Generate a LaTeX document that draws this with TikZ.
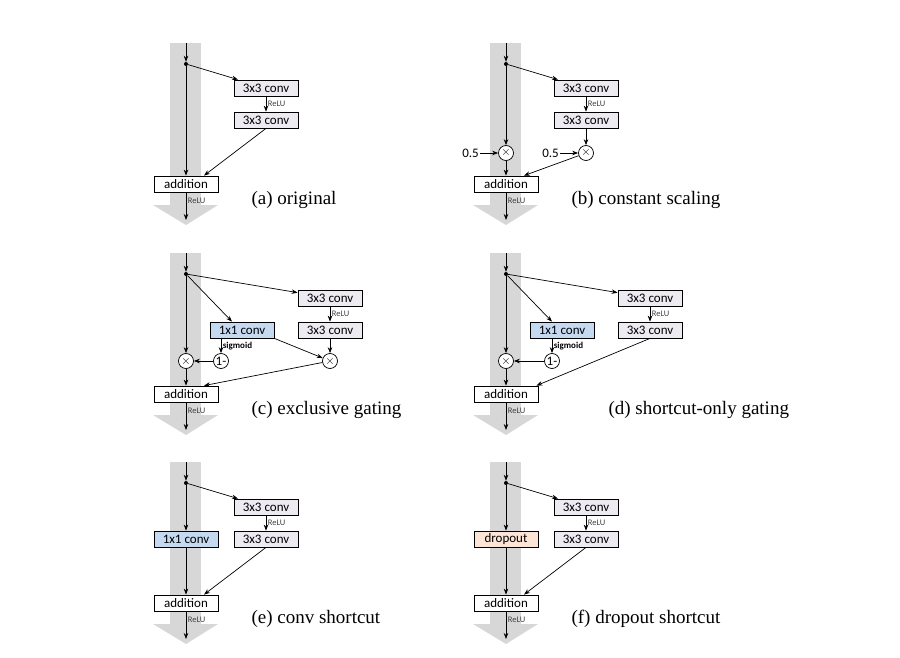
\documentclass[tikz,border=0pt]{standalone}
\usepackage{fontspec}
\setmainfont{Liberation Serif}
\newfontfamily\boxfont{Carlito}
\usetikzlibrary{arrows.meta}

\definecolor{boxfill}{RGB}{238,234,242}
\definecolor{gatefill}{RGB}{197,217,241}
\definecolor{dropfill}{RGB}{252,228,214}
\definecolor{trunkgray}{RGB}{215,215,215}

\tikzset{
  box/.style={draw, line width=0.8pt, fill=boxfill, minimum width=64pt, minimum height=16pt, inner sep=1pt, font=\boxfont\fontsize{13}{13}\selectfont},
  addbox/.style={box, fill=white},
  mult/.style={draw, line width=0.7pt, fill=white, circle, minimum size=15pt, inner sep=0pt, font=\boxfont\fontsize{13}{13}\selectfont},
  dot/.style={fill, circle, minimum size=4pt, inner sep=0pt},
  arr/.style={line width=0.7pt, -{Stealth[length=6pt, width=4.5pt]}},
  relu/.style={right, font=\boxfont\fontsize{8.5}{8.5}\selectfont, text=black!75, inner sep=1.5pt},
  sig/.style={right, font=\boxfont\bfseries\fontsize{9}{9}\selectfont, inner sep=1.5pt},
  label/.style={left, font=\boxfont\fontsize{13}{13}\selectfont, inner sep=1pt},
  caption/.style={anchor=west, font=\fontsize{19}{19}\selectfont}
}

% gray trunk behind each block
\newcommand{\trunk}{%
  \fill[trunkgray] (170,43) rectangle (201,205);
  \fill[trunkgray] (153,205) -- (218,205) -- (186,225) -- cycle;}

\begin{document}
\begin{tikzpicture}[x=1pt, y=-1pt]
  \useasboundingbox (0,0) rectangle (900,658);

  % (a) original
  \begin{scope}
    \trunk
    \coordinate (a-in) at (186,43);
    \node[dot] (a-split) at (186,64) {};
    \node[box] (a-c1) at (266,88) {3x3 conv};
    \node[box] (a-c2) at (266,120) {3x3 conv};
    \node[addbox] (a-add) at (186,184) {addition};
    \coordinate (a-out) at (186,220);
    \draw[arr] (a-in) -- (a-split);
    \draw[arr] (a-split) -- (a-c1);
    \draw[arr] (a-c1) -- node[relu] {ReLU} (a-c2);
    \draw[arr] (a-split) -- (a-add);
    \draw[arr] (a-c2.south) -- ([xshift=18pt]a-add.north);
    \draw[arr] (a-add) -- node[relu, pos=0.3] {ReLU} (a-out);
    \node[caption] at (248,200) {(a) original};
  \end{scope}

  % (b) constant scaling
  \begin{scope}[shift={(320,0)}]
    \trunk
    \coordinate (b-in) at (186,43);
    \node[dot] (b-split) at (186,64) {};
    \node[box] (b-c1) at (266,88) {3x3 conv};
    \node[box] (b-c2) at (266,120) {3x3 conv};
    \node[mult] (b-m1) at (186,153) {$\times$};
    \node[mult] (b-m2) at (266,153) {$\times$};
    \node[label] (b-h1) at (160,153) {0.5};
    \node[label] (b-h2) at (240,153) {0.5};
    \node[addbox] (b-add) at (186,184) {addition};
    \coordinate (b-out) at (186,220);
    \draw[arr] (b-in) -- (b-split);
    \draw[arr] (b-split) -- (b-c1);
    \draw[arr] (b-c1) -- node[relu] {ReLU} (b-c2);
    \draw[arr] (b-c2) -- (b-m2);
    \draw[arr] (b-split) -- (b-m1);
    \draw[arr] (b-h1) -- (b-m1);
    \draw[arr] (b-h2) -- (b-m2);
    \draw[arr] (b-m1) -- (b-add);
    \draw[arr] (b-m2) -- ([xshift=18pt]b-add.north);
    \draw[arr] (b-add) -- node[relu, pos=0.3] {ReLU} (b-out);
    \node[caption] at (248,200) {(b) constant scaling};
  \end{scope}

  % (c) exclusive gating
  \begin{scope}[shift={(0,210)}]
    \trunk
    \coordinate (c-in) at (186,43);
    \node[dot] (c-split) at (186,64) {};
    \node[box] (c-c1) at (330,88) {3x3 conv};
    \node[box] (c-c2) at (330,120) {3x3 conv};
    \node[box, fill=gatefill] (c-g) at (242,120) {1x1 conv};
    \node[mult] (c-m1) at (186,151) {$\times$};
    \node[mult] (c-one) at (221,151) {1-};
    \node[mult] (c-m2) at (330,151) {$\times$};
    \node[addbox] (c-add) at (186,184) {addition};
    \coordinate (c-out) at (186,220);
    \draw[arr] (c-in) -- (c-split);
    \draw[arr] (c-split) -- (c-c1);
    \draw[arr] (c-split) -- ([xshift=-10pt]c-g.north);
    \draw[arr] (c-c1) -- node[relu] {ReLU} (c-c2);
    \draw[arr] (c-c2) -- (c-m2);
    \draw[arr] ([xshift=-21pt]c-g.south) -- node[sig] {sigmoid} (c-one);
    \draw[arr] (c-g.south east) -- (c-m2);
    \draw[arr] (c-one) -- (c-m1);
    \draw[arr] (c-split) -- (c-m1);
    \draw[arr] (c-m1) -- (c-add);
    \draw[arr] (c-m2) -- ([xshift=18pt]c-add.north);
    \draw[arr] (c-add) -- node[relu, pos=0.3] {ReLU} (c-out);
    \node[caption] at (248,200) {(c) exclusive gating};
  \end{scope}

  % (d) shortcut-only gating
  \begin{scope}[shift={(320,210)}]
    \trunk
    \coordinate (d-in) at (186,43);
    \node[dot] (d-split) at (186,64) {};
    \node[box] (d-c1) at (330,88) {3x3 conv};
    \node[box] (d-c2) at (330,120) {3x3 conv};
    \node[box, fill=gatefill] (d-g) at (242,120) {1x1 conv};
    \node[mult] (d-m1) at (186,151) {$\times$};
    \node[mult] (d-one) at (232,151) {1-};
    \node[addbox] (d-add) at (186,184) {addition};
    \coordinate (d-out) at (186,220);
    \draw[arr] (d-in) -- (d-split);
    \draw[arr] (d-split) -- (d-c1);
    \draw[arr] (d-split) -- ([xshift=-10pt]d-g.north);
    \draw[arr] (d-c1) -- node[relu] {ReLU} (d-c2);
    \draw[arr] ([xshift=-10pt]d-g.south) -- node[sig] {sigmoid} (d-one);
    \draw[arr] (d-one) -- (d-m1);
    \draw[arr] (d-split) -- (d-m1);
    \draw[arr] (d-m1) -- (d-add);
    \draw[arr] (d-c2.south) -- ([xshift=-2pt]d-add.north east);
    \draw[arr] (d-add) -- node[relu, pos=0.3] {ReLU} (d-out);
    \node[caption] at (285,200) {(d) shortcut-only gating};
  \end{scope}

  % (e) conv shortcut
  \begin{scope}[shift={(0,419)}]
    \trunk
    \coordinate (e-in) at (186,43);
    \node[dot] (e-split) at (186,64) {};
    \node[box] (e-c1) at (266,88) {3x3 conv};
    \node[box] (e-c2) at (266,120) {3x3 conv};
    \node[box, fill=gatefill] (e-g) at (186,120) {1x1 conv};
    \node[addbox] (e-add) at (186,184) {addition};
    \coordinate (e-out) at (186,220);
    \draw[arr] (e-in) -- (e-split);
    \draw[arr] (e-split) -- (e-c1);
    \draw[arr] (e-c1) -- node[relu] {ReLU} (e-c2);
    \draw[arr] (e-split) -- (e-g);
    \draw[arr] (e-g) -- (e-add);
    \draw[arr] (e-c2.south) -- ([xshift=18pt]e-add.north);
    \draw[arr] (e-add) -- node[relu, pos=0.3] {ReLU} (e-out);
    \node[caption] at (248,200) {(e) conv shortcut};
  \end{scope}

  % (f) dropout shortcut
  \begin{scope}[shift={(320,419)}]
    \trunk
    \coordinate (f-in) at (186,43);
    \node[dot] (f-split) at (186,64) {};
    \node[box] (f-c1) at (266,88) {3x3 conv};
    \node[box] (f-c2) at (266,120) {3x3 conv};
    \node[box, fill=dropfill] (f-d) at (186,120) {dropout};
    \node[addbox] (f-add) at (186,184) {addition};
    \coordinate (f-out) at (186,220);
    \draw[arr] (f-in) -- (f-split);
    \draw[arr] (f-split) -- (f-c1);
    \draw[arr] (f-c1) -- node[relu] {ReLU} (f-c2);
    \draw[arr] (f-split) -- (f-d);
    \draw[arr] (f-d) -- (f-add);
    \draw[arr] (f-c2.south) -- ([xshift=18pt]f-add.north);
    \draw[arr] (f-add) -- node[relu, pos=0.3] {ReLU} (f-out);
    \node[caption] at (248,200) {(f) dropout shortcut};
  \end{scope}
\end{tikzpicture}
\end{document}
